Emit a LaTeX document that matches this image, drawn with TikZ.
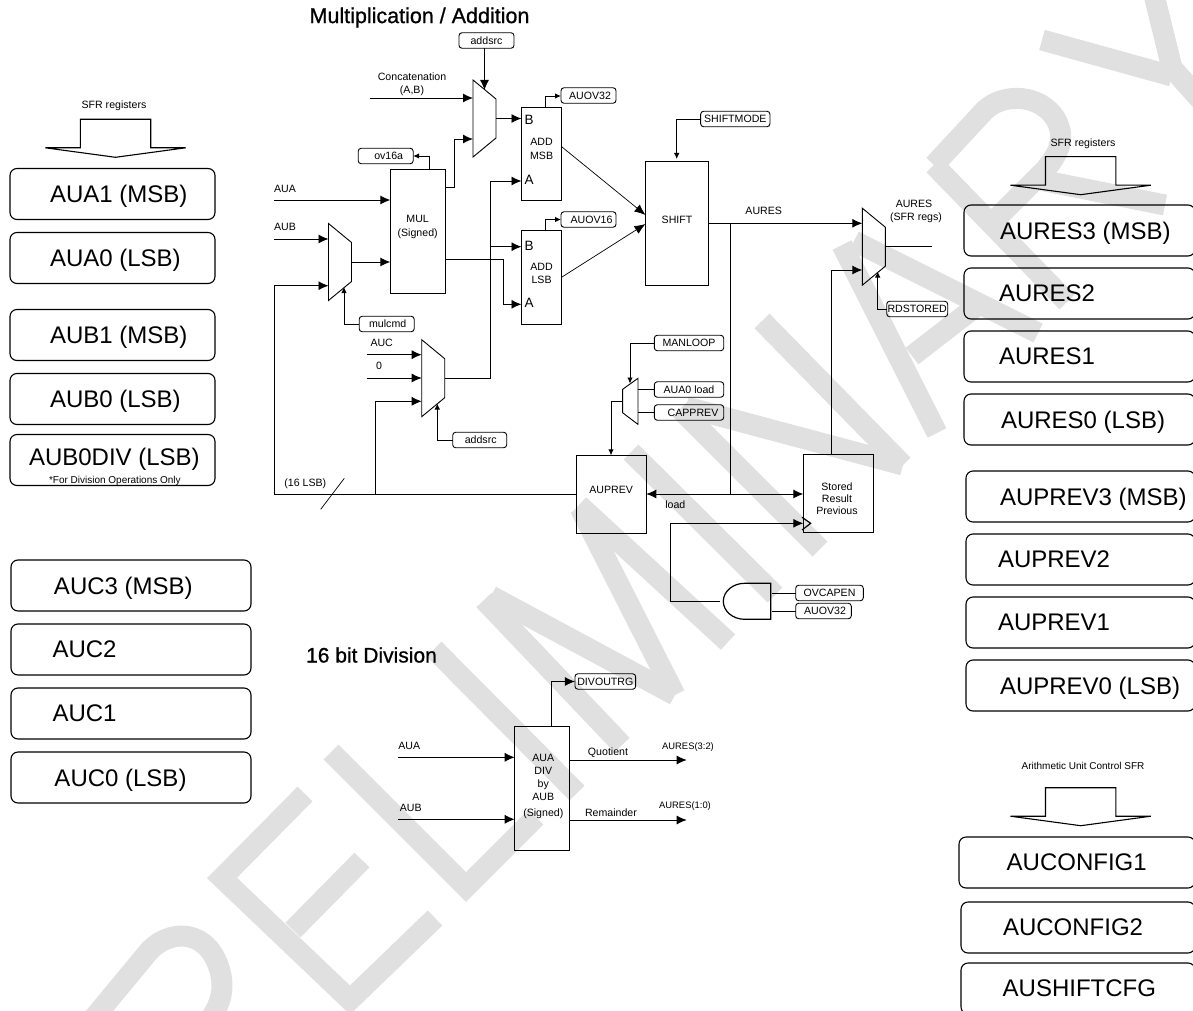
\documentclass[tikz,border=0pt]{standalone}
\usepackage{fontspec}
\setmainfont{Liberation Sans}
\newfontfamily\headfont[FakeBold=0.8]{Liberation Sans}
\usetikzlibrary{arrows.meta, positioning}

\definecolor{wmgray}{gray}{0.88}

\newcommand{\muxblock}[3]{
    \node[muxnode] (#1) at (#2,#3) {};
    \draw[wire] (#1.north west) -- ([yshift=-19pt]#1.north east) -- ([yshift=19pt]#1.south east) -- (#1.south west) -- cycle;
}

\begin{document}
\begin{tikzpicture}[
    x=1pt, y=-1pt,
    wire/.style={line width=0.9pt},
    arrow/.style={wire, -{Latex[length=10pt, width=9pt]}},
    arrowsm/.style={wire, -{Latex[length=6pt, width=5.5pt]}},
    wmstroke/.style={line width=21pt, wmgray, miter limit=20},
    regbox/.style 2 args={
        rectangle,
        rounded corners=7pt,
        draw,
        line width=1.1pt,
        anchor=north west,
        outer sep=0pt,
        align=flush left,
        inner sep=0pt,
        minimum height=51pt,
        text width=#1 pt,
        text depth=0pt,
        execute at begin node={\hspace*{#2 pt}},
        font=\fontsize{24}{28}\selectfont
    },
    tagbox/.style={
        rectangle,
        rounded corners=3pt,
        draw,
        wire,
        outer sep=0pt,
        inner sep=0pt,
        minimum height=15.5pt,
        font=\fontsize{10.6}{13}\selectfont
    },
    funcbox/.style={rectangle, draw, wire, anchor=north west, outer sep=0pt, inner sep=0pt},
    muxnode/.style={rectangle, outer sep=0pt, inner sep=0pt, minimum width=23pt, minimum height=77pt},
    plabel/.style={align=center, inner sep=0pt, font=\fontsize{10.6}{13.5}\selectfont},
    portlabel/.style={inner sep=0pt, font=\fontsize{13.5}{15}\selectfont}
]

\useasboundingbox (0,0) rectangle (1193,1011);
\clip (0,0) rectangle (1193,1011);

% watermark
\draw[wmstroke] (92,1020) -- (150,950) .. controls (170,930) and (202,930) .. (216,960) .. controls (225,980) and (225,1000) .. (208,1022);
\draw[wmstroke] (305,794) -- (222,878) -- (350,1000) -- (435,918);
\draw[wmstroke] (362,860) -- (293,930);
\draw[wmstroke] (331,752) -- (466,887) -- (536,817);
\draw[wmstroke] (434,649) -- (577,793);
\draw[wmstroke] (484,600) -- (622,745);
\draw[wmstroke] (491,596) -- (675,695);
\draw[wmstroke] (580,508) -- (675,695);
\draw[wmstroke] (579,505) -- (728,642);
\draw[wmstroke] (631,452) -- (775,595);
\draw[wmstroke] (680,409) -- (820,549);
\draw[wmstroke] (686,407) -- (903,465);
\draw[wmstroke] (762,321) -- (903,465);
\draw[wmstroke] (854,241) -- (1038,333);
\draw[wmstroke] (842,245) -- (937,433);
\draw[wmstroke] (912,356) -- (978,305);
\draw[wmstroke] (934,165) -- (985,110) .. controls (1005,92) and (1040,95) .. (1055,118) .. controls (1065,135) and (1062,150) .. (1045,170) -- (991,224);
\draw[wmstroke] (934,165) -- (1067,302);
\draw[wmstroke] (1030,178) -- (1165,205);
\draw[wmstroke] (1042,40) -- (1172,76);
\draw[wmstroke] (1154,-5) -- (1172,68) -- (1206,106);

% block arrows over the register stacks
\foreach \ax/\ay in {115.5/119.3, 1080.7/156.7, 1080.7/787.7} {
    \draw[line width=1.1pt] (\ax-35.2,\ay) -- (\ax+35.2,\ay) -- (\ax+35.2,\ay+28.5) -- (\ax+70.2,\ay+28.5)
        -- (\ax,\ay+38) -- (\ax-70.2,\ay+28.5) -- (\ax-35.2,\ay+28.5) -- cycle;
}
\node[plabel] (sfrleft) at (114,105.5) {SFR registers};
\node[plabel] (sfrright) at (1083,143.5) {SFR registers};
\node[plabel, font=\fontsize{10}{12}\selectfont] (sfrctrl) at (1083,765.7) {Arithmetic Unit Control SFR};

% left registers
\node[regbox={205}{40}] (aua1) at (10,168.5) {AUA1 (MSB)};
\node[regbox={205}{40}, below=13pt of aua1] (aua0) {AUA0 (LSB)};
\node[regbox={205}{40}] (aub1) at (10,309.5) {AUB1 (MSB)};
\node[regbox={205}{40}, below=13pt of aub1] (aub0) {AUB0 (LSB)};
\node[regbox={205}{19}, text depth=7pt, below=10pt of aub0] (aub0div) {AUB0DIV (LSB)\\[-10pt]\hspace*{39pt}{\fontsize{10}{11}\selectfont *For Division Operations Only}};

\node[regbox={240}{43}] (auc3) at (11,560) {AUC3 (MSB)};
\node[regbox={240}{41.5}, below=13pt of auc3] (auc2) {AUC2};
\node[regbox={240}{41.5}, below=13pt of auc2] (auc1) {AUC1};
\node[regbox={240}{43.5}, below=13pt of auc1] (auc0) {AUC0 (LSB)};

% right registers
\node[regbox={231}{36}] (aures3) at (964,205) {AURES3 (MSB)};
\node[regbox={231}{35}, below=12pt of aures3] (aures2) {AURES2};
\node[regbox={231}{35}, below=12pt of aures2] (aures1) {AURES1};
\node[regbox={231}{37}, below=12pt of aures1] (aures0) {AURES0 (LSB)};

\node[regbox={229}{34}] (auprev3) at (966,471) {AUPREV3 (MSB)};
\node[regbox={229}{32}, below=12pt of auprev3] (auprev2) {AUPREV2};
\node[regbox={229}{32}, below=12pt of auprev2] (auprev1) {AUPREV1};
\node[regbox={229}{34}, below=12pt of auprev1] (auprev0) {AUPREV0 (LSB)};

\node[regbox={236}{47.7}] (auconfig1) at (959,837) {AUCONFIG1};
\node[regbox={234}{42}] (auconfig2) at (961,902) {AUCONFIG2};
\node[regbox={234}{41.7}] (aushiftcfg) at (961,963) {AUSHIFTCFG};

% multiplication / addition
\node[font=\headfont\fontsize{21.5}{25}\selectfont, inner sep=0pt] (titlemul) at (419.5,17.5) {Multiplication / Addition};

\node[tagbox, minimum width=55pt] (addsrca) at (486.5,40.5) {addsrc};
\node[tagbox, minimum width=55pt] (ovsixteena) at (385.7,156) {\hspace*{6pt}ov16a};
\node[tagbox, minimum width=55pt] (auovhi) at (588.5,95.5) {\hspace*{3pt}AUOV32};
\node[tagbox, minimum width=55pt] (auovlo) at (588.5,219.5) {\hspace*{6pt}AUOV16};
\node[tagbox, minimum width=55pt] (mulcmd) at (386.7,324) {\hspace*{2pt}mulcmd};
\node[tagbox, minimum width=54pt] (addsrcb) at (479.7,440) {\hspace*{2pt}addsrc};
\node[tagbox, minimum width=69.3pt] (shiftmode) at (735.3,119) {SHIFTMODE};
\node[tagbox, minimum width=61pt] (rdstored) at (917.2,309) {RDSTORED};
\node[tagbox, minimum width=69.4pt] (manloop) at (689,343) {MANLOOP};
\node[tagbox, minimum width=69.4pt] (aualoadtag) at (689,389.5) {AUA0 load};
\node[tagbox, minimum width=69.4pt] (capprev) at (689,412.5) {\hspace*{8pt}CAPPREV};
\node[tagbox, minimum width=67.6pt] (ovcapen) at (829.5,593) {OVCAPEN};
\node[tagbox, minimum width=55.6pt] (auovand) at (823.5,611) {\hspace*{3pt}AUOV32};

\node[funcbox, minimum width=54.7pt, minimum height=123.6pt] (mul) at (390.3,169.7) {};
\node[plabel] (multxt) at ([yshift=4.5pt]mul.center) {MUL\\(Signed)};
\node[funcbox, minimum width=40.2pt, minimum height=93pt] (addmsb) at (521.5,107.5) {};
\node[plabel] (addmsbtxt) at ([yshift=5pt]addmsb.center) {ADD\\MSB};
\node[funcbox, minimum width=40.2pt, minimum height=93.3pt] (addlsb) at (521.5,230.7) {};
\node[plabel] (addlsbtxt) at ([yshift=4pt]addlsb.center) {ADD\\LSB};
\node[portlabel] (msbb) at (529,120) {B};
\node[portlabel] (msba) at (529,180) {A};
\node[portlabel] (lsbb) at (529,246) {B};
\node[portlabel] (lsba) at (529,303) {A};
\node[funcbox, minimum width=62.6pt, minimum height=124.4pt] (shift) at (645.7,161.3) {};
\node[plabel] (shifttxt) at ([yshift=3.5pt]shift.center) {SHIFT};
\node[funcbox, minimum width=70.3pt, minimum height=78pt] (auprev) at (576,455.3) {};
\node[plabel] (auprevtxt) at ([yshift=4pt]auprev.center) {AUPREV};
\node[funcbox, minimum width=70pt, minimum height=78pt] (stored) at (803.3,454.3) {};
\node[plabel, font=\fontsize{10.6}{12}\selectfont] (storedtxt) at (837,498.5) {Stored\\Result\\Previous};

\muxblock{muxa}{484.5}{118.5}
\muxblock{muxb}{340}{262}
\muxblock{muxc}{433.2}{378.2}
\muxblock{muxd}{873.8}{246.7}
\node[rectangle, outer sep=0pt, inner sep=0pt, minimum width=15.3pt, minimum height=46pt] (muxe) at (630.3,401.3) {};
\draw[wire] (muxe.north east) -- ([yshift=-11pt]muxe.north west) -- ([yshift=11.5pt]muxe.south west) -- (muxe.south east) -- cycle;

\node[rectangle, outer sep=0pt, inner sep=0pt, minimum width=47.4pt, minimum height=36pt] (andg) at (747,601.3) {};
\draw[line width=1.2pt] (andg.north east) -- ([xshift=-26pt]andg.north east)
    arc[start angle=90, end angle=270, x radius=21.4pt, y radius=18pt] -- (andg.south east) -- cycle;

\node[plabel] (lblconcat) at (412,84.5) {Concatenation\\(A,B)};
\node[plabel] (lblaua) at (285,189) {AUA};
\node[plabel] (lblaub) at (285,227) {AUB};
\node[plabel] (lblauc) at (381.7,343.3) {AUC};
\node[plabel] (lblzero) at (379,366.3) {0};
\node[plabel] (lbllsb) at (305.3,483.3) {(16 LSB)};
\node[plabel] (lblaures) at (763.7,211) {AURES};
\node[plabel] (lblsfr) at (914,211.5) {AURES\\\hspace*{4pt}(SFR regs)};
\node[plabel] (lblload) at (675.3,504.3) {load};

\coordinate (concatin) at (370,98);
\coordinate (auain) at (274,200);
\coordinate (aubin) at (274,239);
\coordinate (aucin) at (366.7,354.7);
\coordinate (zeroin) at (366.7,378);
\coordinate (busleft) at (274,494);
\coordinate (busbranch) at (375,494);
\coordinate (slasha) at (344.3,478.3);
\coordinate (slashb) at (320.7,509.3);
\coordinate (loadtee) at (730.7,494);
\coordinate (auresout) at (931.7,246.7);

\draw[arrow] (addsrca.south -| muxa.north) -- ([yshift=-10pt]muxa.north);
\draw[arrow] (concatin) -- (concatin -| muxa.west);
\draw[arrow] (mul.east |- 0,187) -- (454,187) -- (454,139) -- (muxa.west |- 0,139);
\draw[arrow] (muxa.east) -- (muxa.east -| addmsb.west);
\draw[arrowsm] (545,107.5) -- (545,96) -- (auovhi.west |- 0,96);
\draw[arrowsm] (545,230.7) -- (545,219.5) -- (auovlo.west);
\draw[arrowsm] (429.3,169.7) -- (429.3,156) -- (ovsixteena.east);
\draw[arrow] (auain) -- (auain -| mul.west);
\draw[arrow] (aubin) -- (aubin -| muxb.west);
\draw[arrow] (muxb.east) -- (muxb.east -| mul.west);
\draw[arrow] (busleft) -- (274,285.7) -- (muxb.west |- 0,285.7);
\draw[arrowsm] (mulcmd.west) -- (344,324) -- (344,287);
\draw[arrow] (mul.east |- 0,259) -- (503.3,259) -- (503.3,304.3) -- (addlsb.west |- 0,304.3);
\draw[arrow] (muxc.east) -- (490.7,378.2) -- (490.7,181) -- (addmsb.west |- 0,181);
\draw[arrow] (490.7,246.7) -- (addlsb.west |- 0,246.7);
\draw[-{Latex[length=11pt, width=9pt]}, line width=0.7pt] (562,147) -- (645.5,215);
\draw[-{Latex[length=11pt, width=9pt]}, line width=0.7pt] (562,277) -- (645.5,224);
\draw[arrowsm] (shiftmode.west) -- (676.7,119) -- (676.7,159);
\draw[arrow] (aucin) -- (aucin -| muxc.west);
\draw[arrow] (zeroin) -- (zeroin -| muxc.west);
\draw[arrow] (busbranch) -- (375,401.3) -- (muxc.west |- 0,401.3);
\draw[arrowsm] (addsrcb.west) -- (437.3,440) -- (437.3,403.5);
\draw[wire] (busleft) -- (auprev.west |- busleft);
\draw[line width=0.7pt] (slasha) -- (slashb);
\draw[arrow] (shift.east |- 0,223.3) -- (muxd.west |- 0,223.3);
\draw[wire] (730.7,223.3) -- (loadtee);
\draw[arrow] (loadtee) -- (auprev.east |- loadtee);
\draw[arrow] (loadtee) -- (loadtee -| stored.west);
\draw[arrow] (stored.north -| 831.7,0) -- (831.7,270) -- (muxd.west |- 0,270);
\draw[wire] (muxd.east) -- (auresout);
\draw[arrowsm] (rdstored.west) -- (877.7,309) -- (877.7,271.5);
\draw[arrowsm] (manloop.west) -- (630,343) -- (630,383.5);
\draw[wire] (aualoadtag.west) -- (muxe.east |- aualoadtag);
\draw[wire] (capprev.west) -- (muxe.east |- capprev);
\draw[arrowsm] (muxe.west) -- (611,401.3) -- (611,455.3);
\draw[arrow] (720,601.3) -- (670,601.3) -- (670,523.3) -- (stored.west |- 0,523.3);
\draw[line width=1.2pt] (802,517.3) -- (810.7,523.3) -- (802,530);
\draw[wire] (ovcapen.west) -- (772,593);
\draw[wire] (auovand.west) -- (772,611);

% 16 bit division
\node[font=\headfont\fontsize{21}{24}\selectfont, inner sep=0pt] (titlediv) at (371.5,655) {16 bit Division};
\node[funcbox, minimum width=55pt, minimum height=124pt] (divbox) at (514.7,726.7) {};
\node[plabel, font=\fontsize{10.6}{12.8}\selectfont] (divtxt) at (543.3,777.5) {AUA\\DIV\\by\\AUB};
\node[plabel] (divsigned) at (543.3,813.7) {(Signed)};
\node[tagbox, minimum width=60.7pt] (divoutrg) at (605.3,681.5) {DIVOUTRG};

\node[plabel] (lbldiva) at (409.3,746) {AUA};
\node[plabel] (lbldivb) at (410.7,808.3) {AUB};
\node[plabel] (lblquot) at (608,752.3) {Quotient};
\node[plabel] (lblrem) at (611,812.3) {Remainder};
\node[plabel, font=\fontsize{9.4}{12}\selectfont] (lblreshi) at (688,747) {AURES(3:2)};
\node[plabel, font=\fontsize{9.4}{12}\selectfont] (lblreslo) at (685,806) {AURES(1:0)};

\coordinate (divaua) at (398.3,757.3);
\coordinate (divaub) at (398.3,819.3);
\coordinate (quotout) at (686.7,760);
\coordinate (remout) at (686.7,820);

\draw[arrow] (divaua) -- (divaua -| divbox.west);
\draw[arrow] (divaub) -- (divaub -| divbox.west);
\draw[arrow] (quotout -| divbox.east) -- (quotout);
\draw[arrow] (remout -| divbox.east) -- (remout);
\draw[arrow] (551.3,726.7) -- (551.3,681.5) -- (divoutrg.west);

\end{tikzpicture}
\end{document}
